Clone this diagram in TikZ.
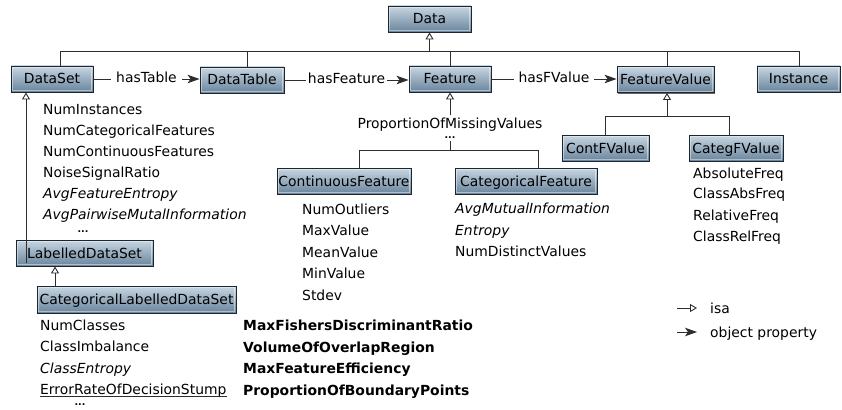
\documentclass[tikz,border=0pt]{standalone}
\usepackage{fontspec}
\setmainfont{DejaVu Sans}
\usetikzlibrary{arrows.meta,shadows}

\definecolor{boxtop}{RGB}{200,214,226}
\definecolor{boxbot}{RGB}{104,132,156}
\definecolor{boxline}{RGB}{28,38,48}
\definecolor{wire}{RGB}{45,45,45}

\newcommand{\txtfont}{\fontsize{13.9}{16}\selectfont}

\tikzset{
  cls/.style={draw=boxline, line width=0.9pt, top color=boxtop, bottom color=boxbot,
    minimum height=26pt, inner sep=0pt, text height=10pt, text depth=0pt, font=\txtfont,
    drop shadow={shadow xshift=1.3pt, shadow yshift=-1.3pt, opacity=0.6, fill=black},
    path picture={\draw[white, opacity=0.45, line width=0.8pt]
      ([shift={(1.3pt,-1.3pt)}]path picture bounding box.north west) rectangle
      ([shift={(-1.3pt,1.3pt)}]path picture bounding box.south east);}},
  attr/.style={anchor=base west, inner sep=0pt, font=\txtfont},
  dots/.style={anchor=base, inner sep=0pt, font=\fontsize{9.5}{10}\selectfont\bfseries},
  lbl/.style={fill=white, inner ysep=2pt, text height=10pt, text depth=3pt, font=\txtfont},
  tree/.style={draw=wire, line width=0.9pt},
  isa/.style={draw=wire, line width=0.9pt, -{Triangle[open, length=7pt, width=8pt]}},
  prop/.style={draw=wire, line width=0.9pt, -{Stealth[length=12pt, width=8.5pt, inset=3pt]}}
}

\begin{document}
\begin{tikzpicture}[x=1pt, y=-1pt]
\useasboundingbox (0,0) rectangle (842,409);

% class boxes
\node[cls, minimum width=83pt]  (data)        at (429.5,19)  {Data};
\node[cls, minimum width=82pt]  (dataset)     at (52,79)     {DataSet};
\node[cls, minimum width=84pt]  (datatable)   at (242,80)    {DataTable};
\node[cls, minimum width=82pt]  (feature)     at (450,79)    {Feature};
\node[cls, minimum width=97pt]  (fvalue)      at (665.5,79.5) {FeatureValue};
\node[cls, minimum width=83pt]  (instance)    at (798.5,79)  {Instance};
\node[cls, minimum width=134pt] (contfeat)    at (344,181)   {ContinuousFeature};
\node[cls, minimum width=142pt] (categfeat)   at (526,181)   {CategoricalFeature};
\node[cls, minimum width=87pt]  (contfv)      at (605.5,148) {ContFValue};
\node[cls, minimum width=94pt]  (categfv)     at (736,148)   {CategFValue};
\node[cls, minimum width=137pt] (labelled)    at (84.5,253)  {LabelledDataSet};
\node[cls, minimum width=199pt, minimum height=27pt] (catlabelled) at (136.5,299.5) {CategoricalLabelledDataSet};

% subclasses of Data
\coordinate (tDS) at (60,51);
\coordinate (tDT) at (247,51);
\coordinate (tF)  at (450,51);
\coordinate (tFV) at (667,51);
\coordinate (tI)  at (799,51);
\draw[tree] (tDS |- dataset.north) -- (tDS) -- (tI) -- (tI |- instance.north);
\draw[tree] (tDT) -- (tDT |- datatable.north);
\draw[tree] (tF) -- (tF |- feature.north);
\draw[tree] (tFV) -- (tFV |- fvalue.north);
\draw[isa] (data.south |- tDS) -- (data.south);

% object properties
\draw[prop] (dataset.east) -- node[lbl, inner xsep=5pt] (hastable) {hasTable} (dataset.east -| datatable.west);
\draw[prop] (datatable.east) -- node[lbl, inner xsep=1.5pt] (hasfeature) {hasFeature} (datatable.east -| feature.west);
\draw[prop] (feature.east) -- node[lbl, inner xsep=5pt] (hasfvalue) {hasFValue} (feature.east -| fvalue.west);

% subclasses of Feature
\coordinate (fCont) at (359,150.5);
\coordinate (fCat)  at (538,150.5);
\coordinate (fJoin) at (450,150.5);
\coordinate (fLow)  at (450,141);
\coordinate (fHigh) at (450,115);
\draw[tree] (fCont |- contfeat.north) -- (fCont) -- (fCat) -- (fCat |- categfeat.north);
\draw[tree] (fJoin) -- (fLow);
\draw[isa] (fHigh) -- (feature.south);
\node[attr, anchor=base] (pmv) at (450,128.5) {ProportionOfMissingValues};
\node[dots] (pmvdots) at (450,138.5) {...};

% subclasses of FeatureValue
\coordinate (vCont) at (605,116);
\coordinate (vCat)  at (729,116);
\coordinate (vJoin) at (667,116);
\draw[tree] (vCont |- contfv.north) -- (vCont) -- (vCat) -- (vCat |- categfv.north);
\draw[isa] (vJoin) -- (vJoin |- fvalue.south);

% dataset hierarchy
\coordinate (ldsUp) at (26,263);
\draw[isa] (ldsUp) -- (ldsUp |- dataset.south);
\coordinate (cldsUp) at (55,286);
\draw[isa] (cldsUp) -- (cldsUp |- labelled.south);

% DataSet measures
\node[attr] (ds1) at (43,114) {NumInstances};
\node[attr] (ds2) at (43,135) {NumCategoricalFeatures};
\node[attr] (ds3) at (43,156) {NumContinuousFeatures};
\node[attr] (ds4) at (43,177) {NoiseSignalRatio};
\node[attr] (ds5) at (43,198) {\itshape AvgFeatureEntropy};
\node[attr] (ds6) at (43,219) {\itshape AvgPairwiseMutalInformation};
\node[dots] (dsdots) at (83,232) {...};

% ContinuousFeature measures
\node[attr] (cf1) at (302,214)   {NumOutliers};
\node[attr] (cf2) at (302,235.5) {MaxValue};
\node[attr] (cf3) at (302,257)   {MeanValue};
\node[attr] (cf4) at (302,278.5) {MinValue};
\node[attr] (cf5) at (302,300)   {Stdev};

% CategoricalFeature measures
\node[attr] (kf1) at (455,213.5) {\itshape AvgMutualInformation};
\node[attr] (kf2) at (455,235)   {\itshape Entropy};
\node[attr] (kf3) at (455,256.5) {NumDistinctValues};

% CategFValue measures
\node[attr] (fv1) at (693,178)   {AbsoluteFreq};
\node[attr] (fv2) at (693,198.5) {ClassAbsFreq};
\node[attr] (fv3) at (693,220)   {RelativeFreq};
\node[attr] (fv4) at (693,241.5) {ClassRelFreq};

% CategoricalLabelledDataSet measures
\node[attr] (cl1) at (40,330.5) {NumClasses};
\node[attr] (cl2) at (40,351.5) {ClassImbalance};
\node[attr] (cl3) at (40,373)   {\itshape ClassEntropy};
\node[attr] (cl4) at (40,394)   {ErrorRateOfDecisionStump};
\draw[wire, line width=0.8pt] ([yshift=-2.7pt]cl4.base west) -- ([yshift=-2.7pt]cl4.base east);
\node[dots] (cldots) at (80,405.5) {...};

% complexity measures
\node[attr] (cx1) at (243,330.5) {\bfseries MaxFishersDiscriminantRatio};
\node[attr] (cx2) at (243,352)   {\bfseries VolumeOfOverlapRegion};
\node[attr] (cx3) at (243,373.5) {\bfseries MaxFeatureEfficiency};
\node[attr] (cx4) at (243,395)   {\bfseries ProportionOfBoundaryPoints};

% legend
\node[attr] (lgisa)  at (710,313.5) {isa};
\node[attr] (lgprop) at (710,337.5) {object property};
\coordinate (lgA1) at (677,308);
\coordinate (lgA2) at (697,308);
\coordinate (lgB1) at (677,332);
\coordinate (lgB2) at (697,332);
\draw[isa] (lgA1) -- (lgA2);
\draw[prop] (lgB1) -- (lgB2);
\end{tikzpicture}
\end{document}
